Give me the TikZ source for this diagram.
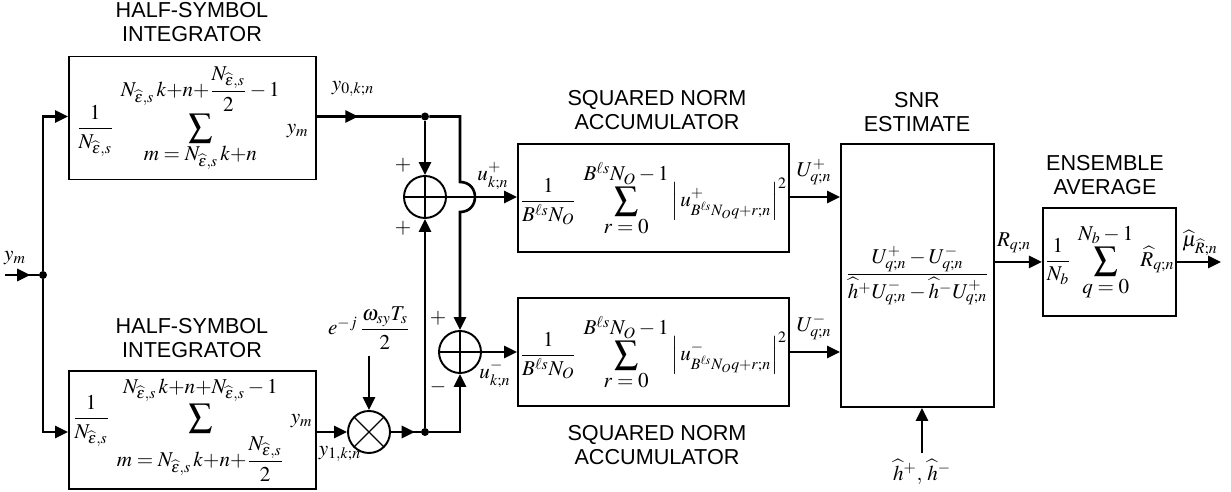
\documentclass[tikz,border=0pt]{standalone}
\usepackage{amsmath}
\usepackage{mathptmx}
\usepackage[no-math]{fontspec}
\setsansfont{Liberation Sans}
\usetikzlibrary{arrows.meta,decorations.markings}
\newcommand{\Neps}{N_{\widehat{\varepsilon},s}}
\newcommand{\Bsum}{\mathop{\vcenter{\hbox{\scalebox{1.12}{$\displaystyle\sum$}}}}}
\begin{document}
\begin{tikzpicture}[
        x=0.02cm, y=-0.02cm,
        every node/.style={font=\fontsize{12}{14}\selectfont},
        blk/.style={draw, line width=1.1pt, inner sep=1pt},
        ttl/.style={align=center, font=\fontsize{12.3}{13.8}\selectfont\sffamily},
        sumnode/.style={draw, circle, line width=1.1pt, minimum size=0.84cm, inner sep=0pt,
            path picture={\draw[line width=0.7pt] (path picture bounding box.north) -- (path picture bounding box.south)
                (path picture bounding box.west) -- (path picture bounding box.east);}},
        mulnode/.style={draw, circle, line width=1.1pt, minimum size=0.84cm, inner sep=0pt,
            path picture={\draw[line width=0.7pt] (path picture bounding box.north west) -- (path picture bounding box.south east)
                (path picture bounding box.south west) -- (path picture bounding box.north east);}},
        dot/.style={circle, fill, inner sep=0pt, minimum size=0.16cm},
        wire/.style={line width=1.5pt},
        arr/.style={-{Triangle[length=0.26cm,width=0.24cm]}},
        marr/.style={postaction={decorate}, decoration={markings,
            mark=at position #1 with {\arrow{Triangle[length=0.26cm,width=0.24cm]}}}}
    ]
        \useasboundingbox (0,0) rectangle (1231,492);

        % blocks
        \node[blk, minimum width=4.94cm, minimum height=2.46cm] (int0) at (192.5,118)
            {$\displaystyle\frac{1}{\Neps}\;\Bsum\limits_{\textstyle m=\Neps\,k{+}n}^{\textstyle \Neps\,k{+}n{+}\dfrac{\Neps}{2}-1}\; y_m$};
        \node[blk, minimum width=4.94cm, minimum height=2.36cm] (int1) at (192.5,430)
            {$\displaystyle\frac{1}{\Neps}\;\Bsum\limits_{\textstyle m=\Neps\,k{+}n{+}\dfrac{\Neps}{2}}^{\textstyle \Neps\,k{+}n{+}\Neps-1}\; y_m$};
        \node[blk, minimum width=5.42cm, minimum height=2.16cm] (sq0) at (653.5,198)
            {$\displaystyle\frac{1}{B^{\ell s}N_O}\;\Bsum\limits_{\textstyle r=0}^{\textstyle B^{\ell s}N_O-1}\left|\,u^+_{B^{\ell s}N_O q+r;n}\right|^2$};
        \node[blk, minimum width=5.42cm, minimum height=2.16cm] (sq1) at (653.5,352)
            {$\displaystyle\frac{1}{B^{\ell s}N_O}\;\Bsum\limits_{\textstyle r=0}^{\textstyle B^{\ell s}N_O-1}\left|\,u^-_{B^{\ell s}N_O q+r;n}\right|^2$};
        \node[blk, minimum width=3.06cm, minimum height=5.26cm] (snr) at (917.5,275.5)
            {$\dfrac{U^+_{q;n}-U^-_{q;n}}{\widehat{h}^{+}U^-_{q;n}-\widehat{h}^{-}U^+_{q;n}}$};
        \node[blk, minimum width=2.66cm, minimum height=2.16cm] (ens) at (1109.5,262)
            {$\displaystyle\frac{1}{N_b}\;\Bsum\limits_{\textstyle q=0}^{\textstyle N_b-1}\;\widehat{R}_{q;n}$};

        % titles
        \node[ttl] (t0) at (192,22) {HALF-SYMBOL\\INTEGRATOR};
        \node[ttl] (t1) at (192,338) {HALF-SYMBOL\\INTEGRATOR};
        \node[ttl] (t2) at (657,110) {SQUARED NORM\\ACCUMULATOR};
        \node[ttl] (t3) at (657,445) {SQUARED NORM\\ACCUMULATOR};
        \node[ttl] (t4) at (917,112) {SNR\\ESTIMATE};
        \node[ttl] (t5) at (1105,175) {ENSEMBLE\\AVERAGE};

        % adders, mixer, junctions
        \node[sumnode] (sum0) at (425,197) {};
        \node[sumnode] (sum1) at (460,352) {};
        \node[mulnode] (mul) at (369,432) {};
        \node[dot] (split) at (43,275) {};
        \node[dot] (j0) at (425,116.5) {};
        \node[dot] (j1) at (425,432) {};
        \coordinate (yin) at (5,275);
        \coordinate (hopa) at (460,182);
        \coordinate (hopb) at (460,212);
        \coordinate (out) at (1221,262);

        % labels
        \node (ym) at (15,258) {$y_m$};
        \node (y0) at (353,89) {$y_{0,k;n}$};
        \node (y1) at (340,454) {$y_{1,k;n}$};
        \node (elab) at (369,328) {$e^{-j}\,\dfrac{\omega_{sy}T_s}{2}$};
        \node (up) at (493,176) {$u^+_{k;n}$};
        \node (um) at (495,374) {$u^-_{k;n}$};
        \node (Up) at (814,172) {$U^+_{q;n}$};
        \node (Um) at (814,327) {$U^-_{q;n}$};
        \node (R) at (1014,243) {$R_{q;n}$};
        \node (mu) at (1200,243) {$\widehat{\mu}_{\widehat{R};n}$};
        \node (hlab) at (922,472) {$\widehat{h}^+,\,\widehat{h}^-$};
        \node (pa) at (403,165) {$+$};
        \node (pb) at (403,228) {$+$};
        \node (pc) at (438,318) {$+$};
        \node (pd) at (438,387) {$-$};

        % connectors
        \draw[wire, marr=0.75] (yin) -- (split);
        \draw[wire, arr] (split) |- (int0.west |- j0);
        \draw[wire, arr] (split) |- (int1.west |- j1);
        \draw[wire, marr=0.4] (int0.east |- j0) -- (j0);
        \draw[wire, arr] (j0) -- (sum0);
        \draw[wire, arr] (j0) -- (j0 -| sum1) -- (hopa) .. controls (480,182) and (480,212) .. (hopb) -- (sum1.north);
        \draw[wire, arr] (int1.east |- mul) -- (mul.west);
        \draw[wire, arr] (elab) -- (mul);
        \draw[wire, marr=0.8] (mul.east) -- (j1);
        \draw[wire, arr] (j1) -- (sum0.south);
        \draw[wire, arr] (j1) -| (sum1.south);
        \draw[wire, arr] (sum0.east) -- (sum0.east -| sq0.west);
        \draw[wire, arr] (sum1.east) -- (sq1.west);
        \draw[wire, arr] (sq0.east |- sum0) -- (sum0 -| snr.west);
        \draw[wire, arr] (sq1.east) -- (sq1.east -| snr.west);
        \draw[wire, arr] (snr.east |- ens.west) -- (ens.west);
        \draw[wire, arr] (ens.east) -- (out);
        \draw[wire, arr] (hlab) -- (hlab |- snr.south);
    \end{tikzpicture}
\end{document}
